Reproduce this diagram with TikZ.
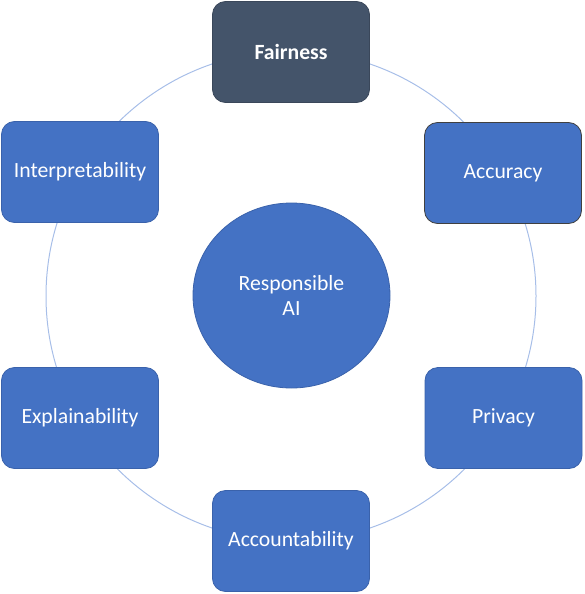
\documentclass[tikz,border=0pt]{standalone}
\usepackage{fontspec}
\setmainfont{Carlito}
\usetikzlibrary{shapes.geometric}
\definecolor{boxblue}{HTML}{4472C4}
\definecolor{boxedge}{HTML}{3A62AB}
\definecolor{darkslate}{HTML}{44546A}
\definecolor{ringblue}{HTML}{A7BEE8}
\tikzset{
  pillar/.style={rectangle, rounded corners=13pt, minimum width=157pt, minimum height=101pt,
    fill=boxblue, draw=boxedge, line width=0.8pt, text=white, font=\fontsize{21.7}{25}\selectfont, inner sep=0pt},
  hub/.style={ellipse, minimum width=197pt, minimum height=185pt, fill=boxblue, draw=boxedge,
    line width=0.8pt, text=white, font=\fontsize{21.7}{25}\selectfont, align=center, inner sep=0pt},
  ring/.style={draw=ringblue, line width=1pt}
}
\begin{document}
\begin{tikzpicture}[x=1pt, y=-1pt]
\useasboundingbox (0,0) rectangle (584,594);
\draw[ring] (291,296) circle[radius=245];
\node[hub] (core) at (291.5,295.5) {Responsible\\AI};
\node[pillar, fill=darkslate, draw=darkslate!85!black, font=\fontsize{21.7}{25}\selectfont\bfseries] (fair) at (291,52) {Fairness};
\node[pillar, draw=black!75] (acc) at (503,173) {Accuracy};
\node[pillar] (priv) at (503.5,418) {Privacy};
\node[pillar] (acct) at (291,541) {Accountability};
\node[pillar] (expl) at (80,418) {Explainability};
\node[pillar] (interp) at (80,172) {Interpretability};
\end{tikzpicture}
\end{document}
